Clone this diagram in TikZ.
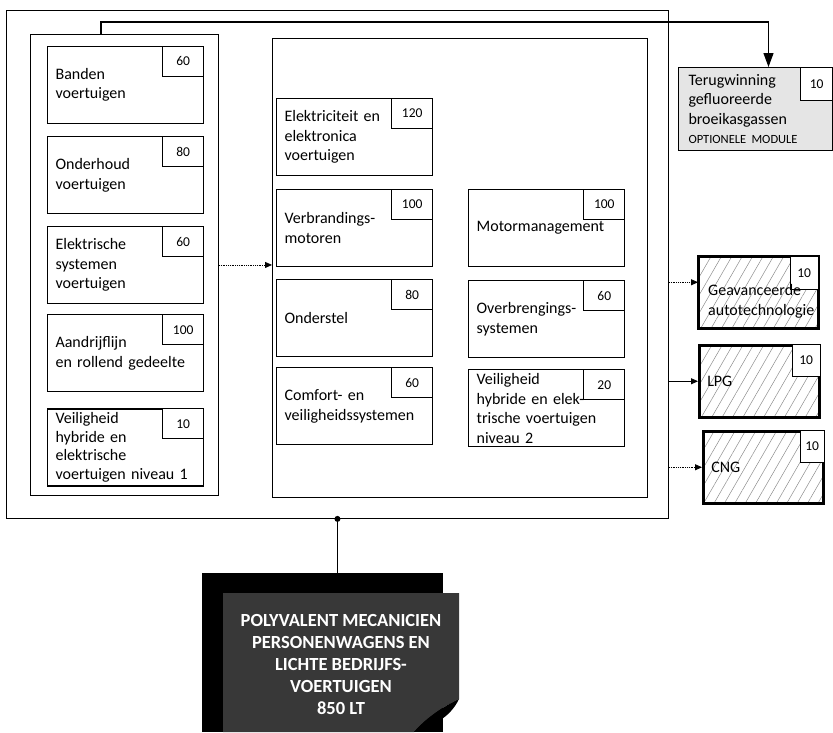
\documentclass[tikz,border=0pt]{standalone}
\usepackage{fontspec}
\setmainfont{Carlito}
\usetikzlibrary{arrows.meta,positioning,calc,patterns.meta}
\newcommand{\pmtext}{\fontsize{16}{19.5}\selectfont}
\newcommand{\pmnum}{\fontsize{13.5}{15}\selectfont}
\tikzset{
  pmframe/.style={draw, line width=0.9pt, inner sep=0pt, anchor=north west},
  pmbox/.style={draw, line width=1.1pt, anchor=north west, minimum width=156pt,
    minimum height=77pt, text width=140pt, inner xsep=8pt, inner ysep=0pt,
    align=left, font=\pmtext},
  pmtab/.style={draw, line width=0.8pt, fill=white, anchor=north east,
    minimum width=41pt, minimum height=30pt, inner sep=0pt, font=\pmnum},
  pmgas/.style={draw, line width=1pt, fill=black!10, anchor=north west,
    minimum width=154pt, minimum height=83pt, text width=134pt, inner xsep=10pt,
    inner ysep=0pt, align=left, font=\pmtext},
  pmopt/.style={draw, line width=2.5pt, anchor=north west, minimum width=120pt,
    minimum height=72pt, text width=104pt, inner xsep=8pt, inner ysep=0pt,
    align=left, font=\pmtext,
    pattern={Lines[angle=60, distance=9pt, line width=0.5pt]}, pattern color=black!45},
  pmarrow/.style={-{Triangle[length=7pt, width=6pt]}, densely dotted, line width=0.8pt},
  pmlink/.style={line width=0.8pt},
  pmmain/.style={-{Triangle[length=14pt, width=10pt]}, line width=1.2pt},
  pmtitle/.style={text=white, align=center, font=\bfseries\fontsize{18.5}{22}\selectfont},
}

\begin{document}
\begin{tikzpicture}[x=1pt, y=-1pt]
  \useasboundingbox (0,0) rectangle (833,732);

  % Outer frame and the two groups
  \node[pmframe, minimum width=662pt, minimum height=508pt] (outer) at (6,10) {};
  \node[pmframe, minimum width=188pt, minimum height=461pt] (grp1) at (30,34) {};
  \node[pmframe, minimum width=375pt, minimum height=459pt] (grp2) at (272,38) {};

  % First group
  \node[pmbox] (banden) at (47,46) {Banden\\voertuigen};
  \node[pmtab] (bandenN) at (banden.north east) {60};
  \node[pmbox, below=12pt of banden] (onderhoud) {Onderhoud\\voertuigen};
  \node[pmtab] (onderhoudN) at (onderhoud.north east) {80};
  \node[pmbox, below=12pt of onderhoud] (elsys) {Elektrische\\systemen\\voertuigen};
  \node[pmtab] (elsysN) at (elsys.north east) {60};
  \node[pmbox, below=10pt of elsys] (aandrijf) {Aandrijflijn\\en rollend gedeelte};
  \node[pmtab] (aandrijfN) at (aandrijf.north east) {100};
  \node[pmbox, below=16pt of aandrijf, font=\fontsize{16}{18.5}\selectfont] (veil1)
    {Veiligheid\\hybride en\\elektrische\\voertuigen niveau 1};
  \node[pmtab] (veil1N) at (veil1.north east) {10};

  % Second group
  \node[pmbox] (elek) at (276,98) {Elektriciteit en\\elektronica\\voertuigen};
  \node[pmtab] (elekN) at (elek.north east) {120};
  \node[pmbox, below=13pt of elek] (verbr) {Verbrandings-\\motoren};
  \node[pmtab] (verbrN) at (verbr.north east) {100};
  \node[pmbox, below=12pt of verbr] (onderstel) {Onderstel};
  \node[pmtab] (onderstelN) at (onderstel.north east) {80};
  \node[pmbox, below=10pt of onderstel] (comfort) {Comfort- en\\veiligheidssystemen};
  \node[pmtab] (comfortN) at (comfort.north east) {60};
  \node[pmbox, right=35pt of verbr] (motor) {Motormanagement};
  \node[pmtab] (motorN) at (motor.north east) {100};
  \node[pmbox, below=13pt of motor] (overbr) {Overbrengings-\\systemen};
  \node[pmtab] (overbrN) at (overbr.north east) {60};
  \node[pmbox, below=11pt of overbr] (veil2)
    {Veiligheid\\hybride en elek-\\trische voertuigen\\niveau 2};
  \node[pmtab] (veil2N) at (veil2.north east) {20};

  % Optional and extra modules
  \node[pmgas] (terug) at (678,67)
    {Terugwinning\\gefluoreerde\\broeikasgassen\\{\fontsize{12.5}{14}\selectfont OPTIONELE MODULE}};
  \node[pmtab, minimum width=32pt, minimum height=33pt] (terugN) at (terug.north east) {10};
  \node[pmopt] (gav) at (698,256) {};
  \node[pmtab, minimum width=28pt, minimum height=33pt] (gavN) at (gav.north east) {10};
  \node[font=\pmtext, align=left, anchor=west, inner sep=0pt] (gavT)
    at ([xshift=10pt, yshift=-9pt]gav.west) {Geavanceerde\\autotechnologie};
  \node[pmopt] (lpg) at (698,344) {LPG};
  \node[pmtab, minimum width=28pt, minimum height=32pt] (lpgN) at (lpg.north east) {10};
  \node[pmopt] (cng) at (702,430) {CNG};
  \node[pmtab, minimum width=24pt, minimum height=32pt] (cngN) at (cng.north east) {10};

  % Connectors
  \draw[pmarrow] (grp1.east) -- (grp1.east -| grp2.west);
  \coordinate (jog) at (101,22);
  \draw[pmmain] (grp1.north -| jog) -- (jog) -| ([xshift=13pt]terug.north);
  \draw[pmarrow] ([yshift=10pt]gav.west -| outer.east) -- ([yshift=10pt]gav.west);
  \draw[pmlink, -{Triangle[length=7pt, width=6pt]}] (lpg.west -| outer.east) -- (lpg.west);
  \draw[pmarrow] (cng.west -| outer.east) -- (cng.west);

  % Qualification document
  \node[circle, fill, inner sep=0pt, minimum size=6pt] (tap) at (outer.south) {};
  \node[fill=black, anchor=north west, inner sep=0pt, minimum width=241pt,
    minimum height=159pt] (docback) at (202,573) {};
  \draw[pmlink] (tap) -- (tap |- docback.north);
  \fill[black!78] (223,593) -- (459,593) -- (459,699)
    .. controls (444,706) and (426,718) .. (414,732) -- (223,732) -- cycle;
  \fill[black] (459,699) .. controls (444,706) and (426,718) .. (414,732)
    .. controls (432,726) and (450,718) .. cycle;
  \node[pmtitle] (title) at (341,664)
    {POLYVALENT MECANICIEN\\PERSONENWAGENS EN\\LICHTE BEDRIJFS-\\VOERTUIGEN\\850 LT};
\end{tikzpicture}
\end{document}
